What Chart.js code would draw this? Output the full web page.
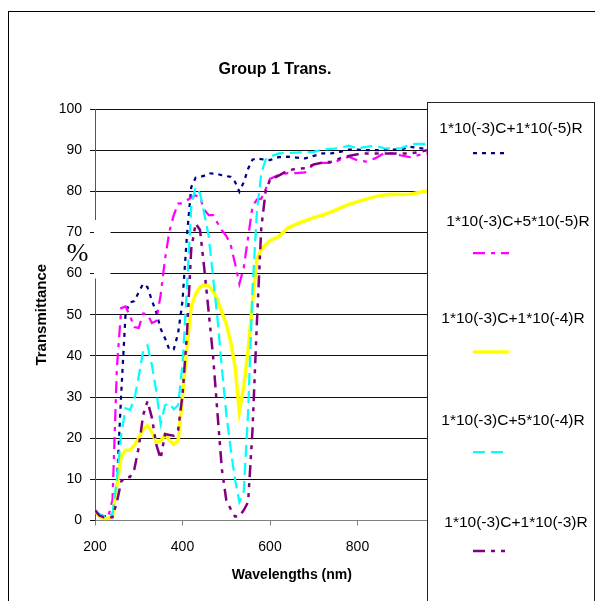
<!DOCTYPE html>
<html>
<head>
<meta charset="utf-8">
<title>Group 1 Trans.</title>
<script src="https://cdn.jsdelivr.net/npm/chart.js@4/dist/chart.umd.min.js"></script>
<style>
  html, body { margin: 0; padding: 0; background: #fff; }
  #wrap { position: relative; width: 595px; height: 601px; overflow: hidden; }
  canvas { display: block; }
</style>
</head>
<body>
<div id="wrap"><canvas id="chart" width="595" height="601"></canvas></div>
<script>
// Transmittance (%) of the Group 1 samples versus wavelength (nm)
const chartTitle = 'Group 1 Trans.';
const xTitle = 'Wavelengths (nm)';
const yTitle = 'Transmittance';
const unitLabel = '%';

const wavelengths = [
  200, 210, 220, 230, 240, 250, 260, 270, 280, 290,
  300, 310, 320, 330, 340, 350, 360, 370, 380, 390,
  400, 410, 420, 430, 440, 450, 460, 470, 480, 490,
  500, 510, 520, 530, 540, 550, 560, 570, 580, 590,
  600, 620, 640, 660, 680, 700, 720, 740, 760, 780,
  800, 820, 840, 860, 880, 900, 920, 940, 960, 980
];

const seriesLabels = [
  '1*10(-3)C+1*10(-5)R',
  '1*10(-3)C+5*10(-5)R',
  '1*10(-3)C+1*10(-4)R',
  '1*10(-3)C+5*10(-4)R',
  '1*10(-3)C+1*10(-3)R'
];

const transR1e5 = [
  2.5, 1.5, 1, 1, 1.5, 9, 31, 50.5, 53, 53.3,
  55.5, 57.5, 56.7, 53.5, 50.6, 46.6, 44.3, 41.5, 41.6, 45.5,
  53.3, 69, 81, 83.3, 83.5, 83.8, 84.4, 84.3, 84.2, 83.9,
  83.7, 83.5, 82.3, 79.9, 82.2, 85.5, 87.7, 88, 87.8, 87.7,
  87.6, 88.3, 88.4, 88.2, 88, 88.6, 89.2, 89.2, 89.6, 90.1,
  90.1, 90, 90, 90, 90.1, 90.2, 90.8, 90.5, 90.3, 90.3
];

const transR5e5 = [
  2.5, 1.5, 1, 0.8, 5, 37, 51.6, 52, 49.7, 47,
  46.8, 50.3, 50.1, 48, 48.5, 54.8, 63.5, 70.2, 74.2, 77,
  77.1, 77.8, 78.5, 79, 78.5, 75.5, 74.2, 74.2, 72.3, 70.5,
  69.2, 67, 62.5, 57.5, 61.5, 68.8, 76.3, 78, 78.2, 80.5,
  83, 84, 84.4, 84.4, 84.6, 86.6, 86.9, 86.9, 87.6, 88.4,
  87.5, 87.2, 88, 89.2, 89.2, 88.7, 88.3, 88.8, 89.2, 89.2
];

const transR1e4 = [
  2.5, 1, 0.5, 0.5, 1, 8.5, 15.6, 17.1, 17.1, 18.3,
  20, 22.2, 23, 21.5, 19, 19.3, 20.8, 19.5, 18.5, 19.4,
  30, 42, 52, 55, 56.7, 57.3, 57, 55.8, 53.6, 50.6,
  47.8, 43.5, 37.5, 26.5, 32.5, 41.5, 53, 63.5, 65.8, 67,
  68, 69, 71, 72, 72.8, 73.6, 74.2, 75, 75.9, 76.8,
  77.5, 78.1, 78.7, 79.1, 79.3, 79.2, 79.3, 79.7, 80.1, 80.2
];

const transR5e4 = [
  2.5, 1.5, 1, 1, 1.5, 10, 21, 27.3, 26.9, 29.5,
  35, 41.2, 42.5, 37.8, 31.5, 23.5, 28, 28.5, 27, 28,
  38, 56, 76.5, 81, 79.5, 74.5, 69, 59, 49, 37,
  26, 17.5, 10, 4.5, 7, 26.5, 56, 75, 84.4, 87.7,
  88.4, 89.2, 89.3, 89.4, 89.5, 89.6, 90.1, 90.3, 90.5, 91.1,
  90.4, 90.8, 91.1, 90.5, 90.3, 90.5, 91.4, 91.5, 91.5, 91.5
];

const transR1e3 = [
  2.5, 1.2, 0.8, 0.8, 0.8, 4.5, 9.5, 10.6, 10.6, 12.5,
  17.8, 25.6, 29, 25, 18.5, 15, 21, 20.8, 20.6, 22,
  30.5, 45, 66, 72.2, 70.6, 61, 50.5, 39.8, 26, 12.5,
  5, 2.8, 1, 1, 2.5, 4.5, 22, 48, 71, 80,
  82.8, 83.8, 85, 85.5, 85.6, 86.5, 87, 87.2, 88, 88.6,
  89, 89.2, 89.2, 89.2, 89.2, 89.2, 89.2, 89.5, 90, 90
];

const yTicks = [0, 10, 20, 30, 40, 50, 60, 70, 80, 90, 100];
const xTicks = [200, 400, 600, 800, 1000];

const FONT = '"Liberation Sans", Arial, Helvetica, sans-serif';

function points(values) {
  return wavelengths.map((w, i) => ({ x: w, y: values[i] }));
}

const seriesStyles = [
  { color: '#000080', width: 2.25, dash: [4, 5] },
  { color: '#FF00FF', width: 2.25, dash: [12, 6, 4, 6] },
  { color: '#FFFF00', width: 3.5, dash: [] },
  { color: '#00FFFF', width: 2.25, dash: [12, 6] },
  { color: '#800080', width: 2.5, dash: [12, 6, 4, 6, 4, 6] }
];
const seriesValues = [transR1e5, transR5e5, transR1e4, transR5e4, transR1e3];

const datasets = seriesValues.map((vals, i) => ({
  label: seriesLabels[i],
  data: points(vals),
  borderColor: seriesStyles[i].color,
  backgroundColor: seriesStyles[i].color,
  borderWidth: seriesStyles[i].width,
  borderDash: seriesStyles[i].dash,
  pointRadius: 0,
  fill: false,
  tension: 0,
  order: seriesValues.length - i
}));

// Chart frame, title, unit mark and the boxed legend on the right
const decorations = {
  id: 'decorations',
  afterDraw(chart) {
    const ctx = chart.ctx;
    ctx.save();

    ctx.strokeStyle = '#000';
    ctx.lineWidth = 1;
    ctx.setLineDash([]);
    ctx.strokeRect(8.5, 11.5, 700, 700);

    ctx.fillStyle = '#000';
    ctx.font = 'bold 16px ' + FONT;
    ctx.textAlign = 'center';
    ctx.textBaseline = 'middle';
    ctx.fillText(chartTitle, 275, 70);

    // unit mark beside the value axis, on its own white patch
    ctx.fillStyle = '#fff';
    ctx.fillRect(94, 220, 16.5, 58.5);
    ctx.fillStyle = '#000';
    ctx.font = '26px "Liberation Serif", "Times New Roman", serif';
    ctx.textBaseline = 'alphabetic';
    ctx.fillText(unitLabel, 77.5, 261);

    // legend box
    const lx = 427.5, ly = 102.5, lw = 167;
    ctx.fillStyle = '#fff';
    ctx.fillRect(lx, ly, lw, 700);
    ctx.strokeStyle = '#222';
    ctx.strokeRect(lx, ly, lw, 700);

    const textX = [511, 518, 513, 513, 516];
    const textY = [129, 222, 319, 421, 523];
    const sampleY = [153, 253, 352, 452, 551];
    ctx.font = '15.5px ' + FONT;
    ctx.textAlign = 'center';
    ctx.textBaseline = 'middle';
    chart.data.datasets.forEach((ds, i) => {
      ctx.fillStyle = '#000';
      ctx.fillText(ds.label, textX[i], textY[i]);
      ctx.beginPath();
      ctx.setLineDash(ds.borderDash || []);
      ctx.strokeStyle = ds.borderColor;
      ctx.lineWidth = ds.borderWidth;
      ctx.moveTo(473, sampleY[i]);
      ctx.lineTo(509, sampleY[i]);
      ctx.stroke();
    });

    ctx.restore();
  }
};

new Chart(document.getElementById('chart'), {
  type: 'line',
  data: { datasets },
  options: {
    responsive: false,
    animation: false,
    devicePixelRatio: 1,
    layout: { padding: { top: 109, right: 106.25, bottom: 0, left: 0 } },
    plugins: {
      legend: { display: false },
      title: { display: false },
      tooltip: { enabled: false }
    },
    scales: {
      x: {
        type: 'linear',
        min: 200,
        max: 1100,
        afterFit(scale) { scale.height = 80.5; },
        afterBuildTicks(scale) { scale.ticks = xTicks.map(v => ({ value: v })); },
        ticks: {
          color: '#000',
          font: { family: FONT, size: 14 },
          padding: 13,
          maxRotation: 0,
          autoSkip: false
        },
        grid: {
          drawOnChartArea: false,
          drawTicks: true,
          tickLength: 5,
          color: '#808080'
        },
        border: { display: true, color: '#808080', width: 1 },
        title: {
          display: true,
          text: xTitle,
          color: '#000',
          font: { family: FONT, size: 14, weight: 'bold' },
          padding: { top: 0, bottom: 17 }
        }
      },
      y: {
        min: 0,
        max: 100,
        afterFit(scale) { scale.width = 95; },
        afterBuildTicks(scale) { scale.ticks = yTicks.map(v => ({ value: v })); },
        ticks: {
          color: '#000',
          font: { family: FONT, size: 14 },
          padding: 8
        },
        grid: {
          color: '#111',
          lineWidth: 1,
          tickLength: 5
        },
        border: { display: true, color: '#555', width: 1 },
        title: {
          display: true,
          text: yTitle,
          color: '#000',
          font: { family: FONT, size: 15, weight: 'bold' },
          padding: { top: 33, bottom: 0 }
        }
      }
    }
  },
  plugins: [decorations]
});
</script>
</body>
</html>
